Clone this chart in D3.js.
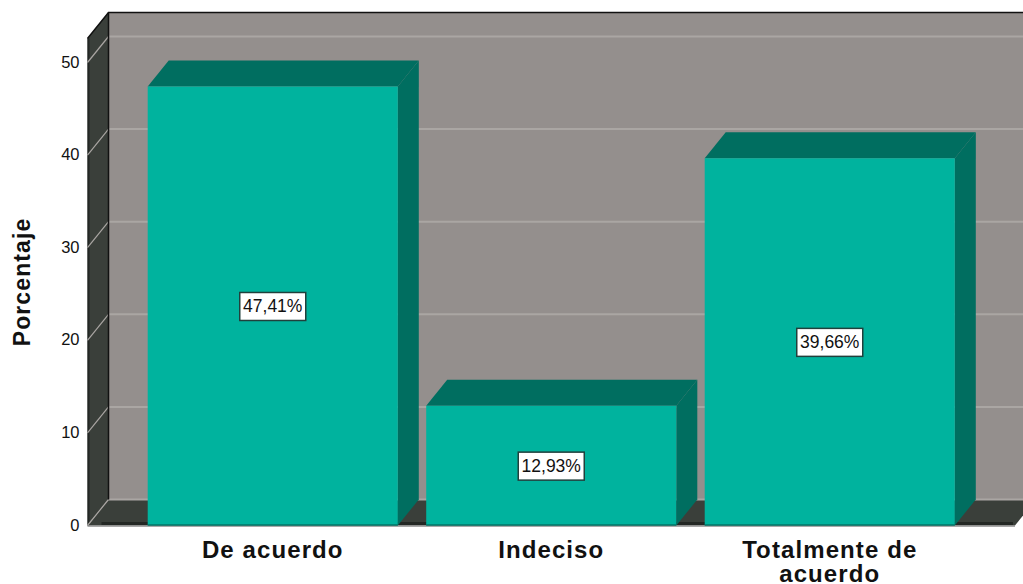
<!DOCTYPE html>
<html><head><meta charset="utf-8">
<script src="https://cdn.jsdelivr.net/npm/d3@7"></script>
<style>html,body{margin:0;padding:0;background:#fff}svg{display:block}text{font-family:"Liberation Sans",Arial,sans-serif}</style>
</head><body><svg id="c" width="1023" height="584"></svg>
<script>
const categories = ["De acuerdo", "Indeciso", "Totalmente de acuerdo"];
const values = [47.41, 12.93, 39.66];
const valueLabels = ["47,41%", "12,93%", "39,66%"];
const yTicks = [0, 10, 20, 30, 40, 50];
const yTitle = "Porcentaje";

const W = 1023, H = 584, dx = 21, dy = -26;
const C = {wall:"#948f8d", grid:"#aaa6a3", side:"#3a3f3a", sideDark:"#232724", bar:"#00b39e", barDark:"#006e60", edge:"#111"};
const svg = d3.select("#c");
const y = d3.scaleLinear().domain([0, 50]).range([525.5, 62.5]);
const x = d3.scaleBand().domain(categories).range([133.5, 969]).paddingInner(0.102).paddingOuter(0.051);
const poly = (pts, fill) => svg.append("polygon").attr("points", pts.map(p => p.join(",")).join(" ")).attr("fill", fill);
const xL = 87.5, xB = xL + dx, yTop = 38.5, xR = 1015;

// back wall
svg.append("rect").attr("x", xB).attr("y", yTop + dy).attr("width", W - xB).attr("height", y(0) - yTop).attr("fill", C.wall);
// left wall
poly([[xL, yTop], [xB, yTop + dy], [xB, y(0) + dy], [xL, y(0)]], C.side);
// floor
poly([[xL, y(0)], [xB, y(0) + dy], [xR + dx, y(0) + dy], [xR, y(0)]], C.side);
svg.append("line").attr("x1", xL + 14).attr("x2", xR - 2).attr("y1", y(0) - 2).attr("y2", y(0) - 2).attr("stroke", C.sideDark).attr("stroke-width", 3);
svg.append("line").attr("x1", xL + 1).attr("x2", xL + 1).attr("y1", yTop).attr("y2", y(0)).attr("stroke", C.sideDark).attr("stroke-width", 2);

// gridlines
yTicks.forEach(t => {
  const yy = y(t);
  svg.append("line").attr("x1", xB).attr("x2", W).attr("y1", yy + dy).attr("y2", yy + dy).attr("stroke", C.grid).attr("stroke-width", 2);
  svg.append("line").attr("x1", xL).attr("x2", xB).attr("y1", yy).attr("y2", yy + dy).attr("stroke", C.grid).attr("stroke-width", 1.2);
});
// edges
svg.append("line").attr("x1", xB).attr("x2", xB).attr("y1", yTop + dy).attr("y2", y(0) + dy).attr("stroke", C.edge).attr("stroke-width", 1.5);
svg.append("path").attr("d", `M${xL},${yTop}L${xB},${yTop + dy}L${W},${yTop + dy}`).attr("fill", "none").attr("stroke", C.edge).attr("stroke-width", 1.5);
svg.append("line").attr("x1", xL).attr("x2", xR).attr("y1", y(0) + .5).attr("y2", y(0) + .5).attr("stroke", "#8c8c8c").attr("stroke-width", 1.5);

// bars
categories.forEach((c, i) => {
  const x0 = x(c), x1 = x0 + x.bandwidth(), y0 = y(values[i]), yb = y(0);
  poly([[x0, y0], [x0 + dx, y0 + dy], [x1 + dx, y0 + dy], [x1, y0]], C.barDark);
  poly([[x1, y0], [x1 + dx, y0 + dy], [x1 + dx, yb + dy], [x1, yb]], C.barDark);
  svg.append("rect").attr("x", x0).attr("y", y0).attr("width", x.bandwidth()).attr("height", yb - y0).attr("fill", C.bar);
  svg.append("line").attr("x1", x0).attr("x2", x1).attr("y1", yb - .5).attr("y2", yb - .5).attr("stroke", "#00564c").attr("stroke-width", 1);
  const cx = x0 + x.bandwidth() / 2, cy = (y0 + yb) / 2 + .5;
  svg.append("rect").attr("x", cx - 33).attr("y", cy - 14).attr("width", 66).attr("height", 28).attr("fill", "#fff").attr("stroke", "#20403c").attr("stroke-width", 1.5);
  svg.append("text").attr("x", cx).attr("y", cy + 6).attr("text-anchor", "middle").attr("font-size", 17.5).attr("fill", "#111").text(valueLabels[i]);
});

// y axis
const ga = svg.append("g").attr("transform", `translate(${xL},0)`).call(d3.axisLeft(y).tickValues(yTicks).tickSize(0).tickPadding(8));
ga.select(".domain").remove();
ga.selectAll("text").attr("font-size", 16.5).attr("font-family", '"Liberation Sans",Arial,sans-serif').attr("fill", "#111").attr("dy", "0.28em");

svg.append("text").attr("transform", "translate(30,282) rotate(-90)").attr("text-anchor", "middle").attr("font-size", 23).attr("font-weight", "bold").attr("letter-spacing", 1.1).attr("fill", "#111").text(yTitle);

// category labels
categories.forEach(c => {
  const cx = x(c) + x.bandwidth() / 2;
  const lines = c === "Totalmente de acuerdo" ? ["Totalmente de", "acuerdo"] : [c];
  lines.forEach((l, j) => svg.append("text").attr("x", cx).attr("y", 558 + j * 24).attr("text-anchor", "middle").attr("font-size", 24).attr("font-weight", "bold").attr("letter-spacing", 1.1).attr("fill", "#111").text(l));
});
</script></body></html>
